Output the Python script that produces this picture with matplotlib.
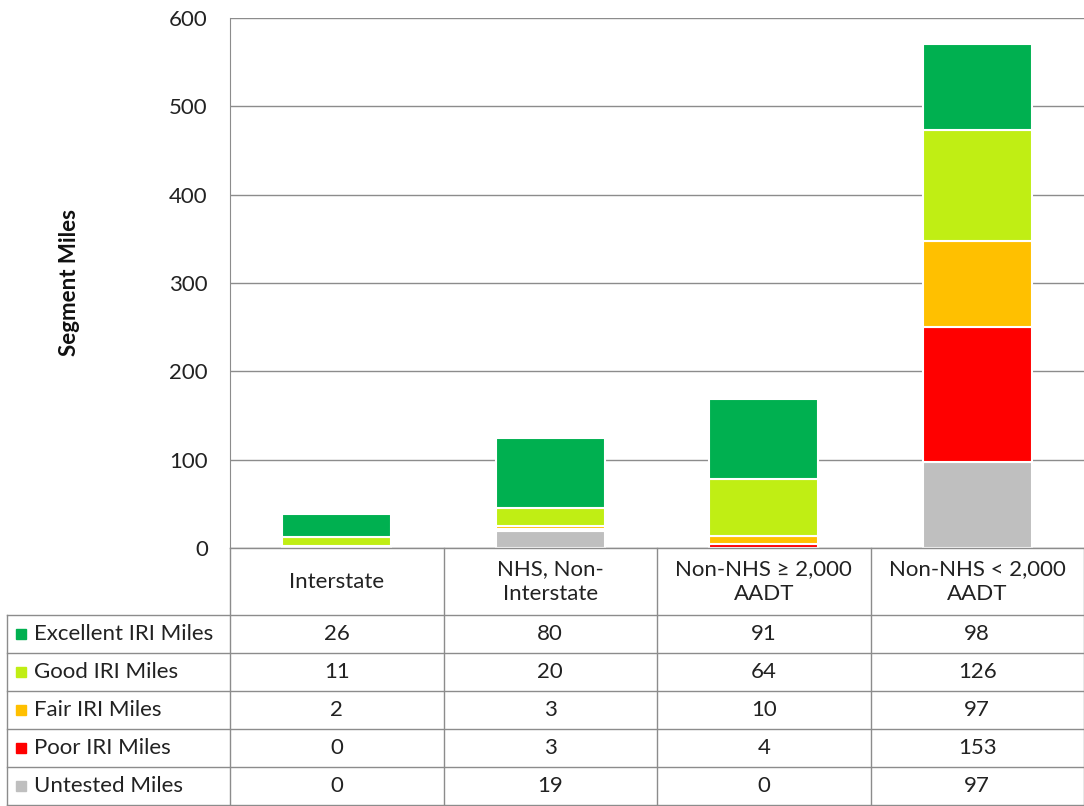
import matplotlib.pyplot as plt
from matplotlib.lines import Line2D
from matplotlib.patches import Rectangle

plt.rcParams['font.family'] = ['Lato', 'DejaVu Sans']

# data
categories = ['Interstate', 'NHS, Non-\nInterstate', 'Non-NHS ≥ 2,000\nAADT', 'Non-NHS < 2,000\nAADT']
series_names = ['Excellent IRI Miles', 'Good IRI Miles', 'Fair IRI Miles', 'Poor IRI Miles', 'Untested Miles']
excellent = [26, 80, 91, 98]
good = [11, 20, 64, 126]
fair = [2, 3, 10, 97]
poor = [0, 3, 4, 153]
untested = [0, 19, 0, 97]
colors = ['#00B050', '#C0EE14', '#FFC000', '#FF0000', '#BFBFBF']

W, H = 1084, 806
fig = plt.figure(figsize=(W / 100, H / 100), dpi=100)

def fx(px):
    return px / W

def fy(py):
    return 1 - py / H

# chart area
x0, x1, ytop, ybot = 230, 1084, 18, 548
ax = fig.add_axes([fx(x0), fy(ybot), fx(x1) - fx(x0), fy(ytop) - fy(ybot)])

# stack bottom to top: untested, poor, fair, good, excellent
stack = [(untested, colors[4]), (poor, colors[3]), (fair, colors[2]), (good, colors[1]), (excellent, colors[0])]
xs = range(len(categories))
bottom = [0] * len(categories)
for vals, c in stack:
    ax.bar(xs, vals, bottom=bottom, width=0.51, color=c, edgecolor='white', linewidth=1.5, zorder=3)
    bottom = [b + v for b, v in zip(bottom, vals)]

ax.set_xlim(-0.5, 3.5)
ax.set_ylim(0, 600)
ax.set_yticks(range(0, 601, 100))
ax.yaxis.grid(True, color='#8C8C8C', linewidth=1)
ax.set_axisbelow(True)
ax.set_xticks([])
ax.tick_params(axis='y', length=0, pad=16, labelsize=16, labelcolor='#222222')
for s in ['top', 'right', 'bottom']:
    ax.spines[s].set_visible(False)
ax.spines['left'].set_color('#8C8C8C')
ax.set_ylabel('Segment Miles', fontsize=16, fontweight='bold', color='#111111')
ax.yaxis.set_label_coords((80 - x0) / (x1 - x0), (ybot - 283) / (ybot - ytop))

# data table below the chart
line_c = '#8C8C8C'
col_edges = [x0 + i * (x1 - x0) / 4 for i in range(5)]
left_edge = 7
header_bot = 615
row_h = (805 - header_bot) / 5
table_bot = 805

def hline(xa, xb, y):
    fig.add_artist(Line2D([fx(xa), fx(xb)], [fy(y), fy(y)], color=line_c, lw=1))

def vline(x, ya, yb):
    fig.add_artist(Line2D([fx(x), fx(x)], [fy(ya), fy(yb)], color=line_c, lw=1))

hline(x0, x1, ybot)
for i in range(6):
    y = header_bot + i * row_h
    hline(left_edge, x1, y)
for x in col_edges:
    vline(x, ybot, table_bot)
vline(left_edge, header_bot, table_bot)

for i, cat in enumerate(categories):
    cx = (col_edges[i] + col_edges[i + 1]) / 2
    fig.text(fx(cx), fy((ybot + header_bot) / 2), cat, ha='center', va='center',
             fontsize=16, color='#222222', linespacing=1.3)

table_vals = [excellent, good, fair, poor, untested]
for r, (name, vals) in enumerate(zip(series_names, table_vals)):
    yc = header_bot + (r + 0.5) * row_h
    fig.add_artist(Rectangle((fx(16), fy(yc + 5)), fx(10), fy(yc - 5) - fy(yc + 5), color=colors[r]))
    fig.text(fx(34), fy(yc), name, ha='left', va='center', fontsize=16, color='#222222')
    for i, v in enumerate(vals):
        cx = (col_edges[i] + col_edges[i + 1]) / 2
        fig.text(fx(cx), fy(yc), str(v), ha='center', va='center', fontsize=16, color='#222222')

fig.savefig('out.png', dpi=100)
